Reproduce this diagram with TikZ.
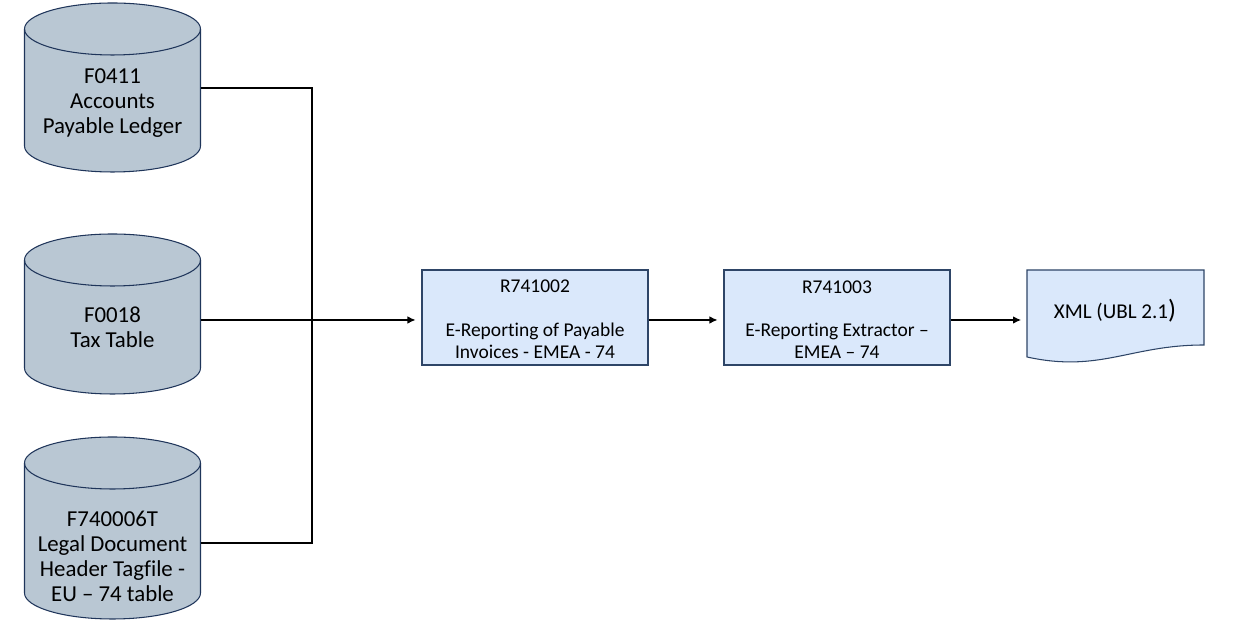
\documentclass[tikz,border=0pt]{standalone}
\usepackage{fontspec}
\setmainfont{Carlito}[Ligatures={NoCommon}]
\usetikzlibrary{arrows.meta}
\definecolor{cylfill}{HTML}{B9C7D3}
\definecolor{cylline}{HTML}{1F355A}
\definecolor{boxfill}{HTML}{DAE8FB}
\definecolor{boxline}{HTML}{2E4567}
\newcommand{\dbcyl}[3]{% cx, top-ellipse center, bottom-ellipse center
  \draw[cylshape] (#1-88,#2) -- (#1-88,#3)
    arc[start angle=180,end angle=360,x radius=88,y radius=26]
    -- (#1+88,#2)
    arc[start angle=0,end angle=180,x radius=88,y radius=26] -- cycle;
  \draw[cylshape,fill=none] (#1-88,#2)
    arc[start angle=180,end angle=360,x radius=88,y radius=26];
}
\tikzset{
  cylshape/.style={draw=cylline,fill=cylfill,line width=0.6pt},
  cyltext/.style={align=center,font=\fontsize{13}{14.2}\selectfont,inner sep=0pt},
  procbox/.style={draw=boxline,fill=boxfill,line width=0.6pt,minimum width=226*0.02cm,minimum height=95*0.02cm,align=center,font=\fontsize{11.1}{12.4}\selectfont,inner sep=0pt},
  conn/.style={line width=0.6pt,black},
  arr/.style={conn,-{Latex[length=1.6mm,width=1.5mm]},shorten >=0.12cm},
}
\begin{document}
\begin{tikzpicture}[x=0.02cm,y=0.02cm]
\useasboundingbox (0,0) rectangle (1240,631);
% cylinders
\dbcyl{112.5}{602}{485}
\dbcyl{112.5}{371}{263}
\dbcyl{112.5}{168}{38}
\node[cyltext] (c1) at (112.5,528) {F0411\\Accounts\\Payable Ledger};
\node[cyltext] (c2) at (112.5,304) {F0018\\Tax Table};
\node[cyltext] (c3) at (112.5,75) {F740006T\\Legal Document\\Header Tagfile -\\EU – 74 table};
\coordinate (c1r) at (200.5,543);
\coordinate (c2r) at (200.5,311);
\coordinate (c3r) at (200.5,88);
\coordinate (j) at (312,311);
% boxes
\node[procbox] (b1) at (535,313.5) {\\[-3pt]R741002\\[12.4pt]E-Reporting of Payable\\Invoices - EMEA - 74};
\node[procbox] (b2) at (837,313.5) {\\[-3pt]R741003\\[12.4pt]E-Reporting Extractor –\\EMEA – 74};
% document
\draw[draw=boxline,fill=boxfill,line width=0.6pt] (1027,361) -- (1204,361) -- (1204,286)
  .. controls (1130,286) and (1100,258) .. (1027,274) -- cycle;
\coordinate (d) at (1027,311);
\node[font=\fontsize{12}{14}\selectfont,inner sep=0pt] (dt) at (1115,320) {XML (UBL 2.1{\fontsize{15}{16}\selectfont)}};
% connectors
\draw[conn] (c1r) -| (j);
\draw[conn] (c3r) -| (j);
\draw[arr] (c2r) -- (b1.west |- c2r);
\draw[arr] (b1.east |- c2r) -- (b2.west |- c2r);
\draw[arr] (b2.east |- c2r) -- (d);
\end{tikzpicture}
\end{document}
